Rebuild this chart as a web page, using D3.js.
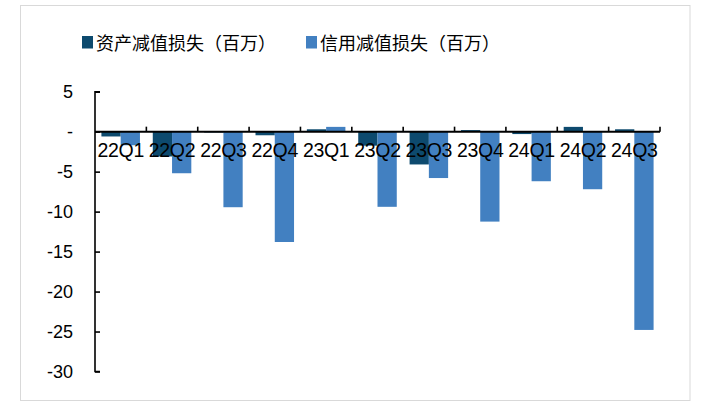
<!DOCTYPE html>
<html><head><meta charset="utf-8">
<script src="https://cdn.jsdelivr.net/npm/d3@7"></script>
<style>body{margin:0;background:#fff}svg{display:block}</style>
</head><body><div id="c"></div>
<script>
const categories = ["22Q1","22Q2","22Q3","22Q4","23Q1","23Q2","23Q3","23Q4","24Q1","24Q2","24Q3"];
const assetLoss = [-0.6,-3.1,-0.1,-0.45,0.3,-1.75,-4.1,0.2,-0.3,0.6,0.3];
const creditLoss = [-1.7,-5.2,-9.45,-13.8,0.6,-9.4,-5.8,-11.25,-6.2,-7.2,-24.8];
const seriesNames = ["资产减值损失（百万）","信用减值损失（百万）"];
const yTicks = [5,0,-5,-10,-15,-20,-25,-30];
const colors = ["#0d4a6e","#4280c1"];

const W=701,H=402;
const svg=d3.select("#c").append("svg").attr("width",W).attr("height",H);
svg.append("rect").attr("x",20.5).attr("y",5.5).attr("width",669.5).attr("height",395)
  .attr("fill","#fff").attr("stroke","#d9d9d9").attr("stroke-width",1);

const y=d3.scaleLinear().domain([-30,5]).range([371.5,91.7]);
const x=d3.scaleBand().domain(categories).range([95,660]).padding(0);
const sub=d3.scaleBand().domain([0,1]).range([0,x.bandwidth()]).paddingOuter(0.333).paddingInner(0);

const series=[assetLoss,creditLoss];
series.forEach((vals,si)=>{
  svg.append("g").selectAll("rect").data(vals).join("rect")
    .attr("x",(d,i)=>x(categories[i])+sub(si))
    .attr("width",sub.bandwidth())
    .attr("y",d=>y(Math.max(0,d)))
    .attr("height",d=>Math.abs(y(d)-y(0)))
    .attr("fill",colors[si]);
});

// y axis
const ya=svg.append("g").attr("transform","translate(95,0)")
  .call(d3.axisRight(y).tickValues(yTicks).tickSize(5).tickFormat(""));
ya.select(".domain").attr("stroke","#000").attr("stroke-width",1.6).attr("d","M5,91.7H0V371.5H5");
ya.selectAll(".tick line").attr("stroke","#000").attr("stroke-width",1.6);
svg.append("g").selectAll("text").data(yTicks).join("text")
  .attr("x",73).attr("y",d=>y(d)).attr("dy","0.36em").attr("text-anchor","end")
  .attr("font-family","Liberation Sans, Arial, sans-serif").attr("font-size",18).attr("fill","#000")
  .text(d=>d===0?"-":d);

// x axis at zero
const xa=svg.append("g").attr("transform",`translate(0,${y(0)})`);
xa.append("line").attr("x1",95).attr("x2",660).attr("stroke","#000").attr("stroke-width",2);
const bounds=categories.map(c=>x(c)+x.bandwidth());
xa.selectAll("line.t").data(bounds).join("line").attr("class","t")
  .attr("x1",d=>d).attr("x2",d=>d).attr("y1",0).attr("y2",-5).attr("stroke","#000").attr("stroke-width",1.6);
xa.selectAll("text").data(categories).join("text")
  .attr("x",d=>x(d)+x.bandwidth()/2).attr("y",25).attr("text-anchor","middle")
  .attr("font-family","Liberation Sans, Arial, sans-serif").attr("font-size",19.5).attr("letter-spacing","-0.3px").attr("fill","#000")
  .text(d=>d);

// legend
const lg=svg.append("g");
const lx=[82,306];
seriesNames.forEach((n,i)=>{
  lg.append("rect").attr("x",lx[i]).attr("y",36).attr("width",11).attr("height",12.5).attr("fill",colors[i]);
  lg.append("text").attr("x",lx[i]+14).attr("y",50).attr("font-family","Noto Sans CJK SC, sans-serif")
    .attr("font-size",18).attr("fill","#000").text(n);
});
</script></body></html>
